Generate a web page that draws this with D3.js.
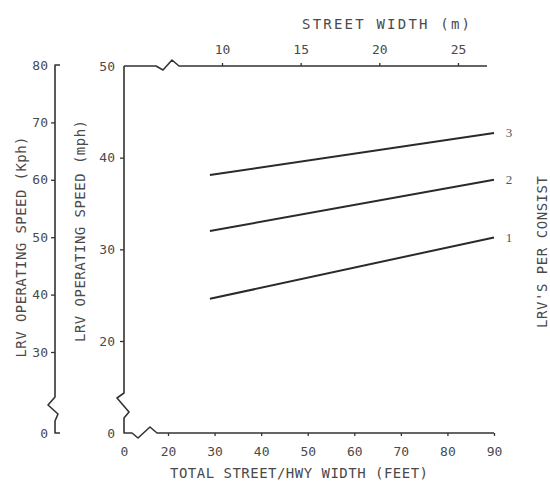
<!DOCTYPE html>
<html>
<head>
<meta charset="utf-8">
<script src="https://cdn.jsdelivr.net/npm/d3@7"></script>
<style>
  body { margin: 0; background: #fff; }
  svg { display: block; }
  text { font-family: "DejaVu Sans Mono", monospace; fill: #4a4a4a; }
</style>
</head>
<body>
<div id="chart"></div>
<script>
// LRV operating speed vs street width

const feetTicks = [0, 20, 30, 40, 50, 60, 70, 80, 90];
const mphTicks = [0, 20, 30, 40, 50];
const kphTicks = [0, 30, 40, 50, 60, 70, 80];
const metreTicks = [10, 15, 20, 25];

const consists = ['1', '2', '3'];
const startFeet = [29, 29, 29];
const endFeet = [90, 90, 90];
const startMph = [24.6, 32.0, 38.1];
const endMph = [31.3, 37.6, 42.7];

const width = 550;
const height = 491;
const ink = '#333';

const svg = d3.select('#chart')
    .append('svg')
    .attr('width', width)
    .attr('height', height);

// Broken scales: the 0 value sits closer than its true distance
const x = d3.scaleLinear().domain([0, 20, 90]).range([124, 168, 494]);
const y = d3.scaleLinear().domain([0, 20, 50]).range([433, 341, 66]);
const yKph = d3.scaleLinear().domain([0, 30, 80]).range([433, 352, 65]);
const xMetre = d3.scaleLinear().domain([10, 25]).range([222, 458]);

const kphX = 55;
const x0 = x(0), y0 = y(0), yTop = y(50);

function styleAxis(g) {
    g.select('.domain').remove();
    g.attr('font-family', null).attr('font-size', null);
    g.selectAll('.tick line').attr('stroke', ink).attr('stroke-width', 1.3);
    g.selectAll('.tick text').style('font-size', '13px');
}

// Bottom axis (feet)
const xAxis = svg.append('g')
    .attr('transform', `translate(0,${y0})`)
    .call(d3.axisBottom(x).tickValues(feetTicks).tickSize(3).tickPadding(11));
styleAxis(xAxis);
xAxis.selectAll('.tick').filter(d => d === 0).select('line').remove();

// mph axis
const yAxis = svg.append('g')
    .attr('transform', `translate(${x0},0)`)
    .call(d3.axisLeft(y).tickValues(mphTicks).tickSize(4).tickPadding(5));
styleAxis(yAxis);
yAxis.selectAll('.tick').filter(d => d === 0 || d === 50).select('line').remove();

// kph axis
const kAxis = svg.append('g')
    .attr('transform', `translate(${kphX},0)`)
    .call(d3.axisLeft(yKph).tickValues(kphTicks).tickSize(4).tickPadding(3));
styleAxis(kAxis);
kAxis.selectAll('.tick').filter(d => d === 0 || d === 80).select('line').remove();

// Top axis (metres)
const topAxis = svg.append('g')
    .attr('transform', `translate(0,${yTop})`)
    .call(d3.axisTop(xMetre).tickValues(metreTicks).tickSize(3).tickPadding(9));
styleAxis(topAxis);

// Axis lines with break marks
const line = d3.line();
const axisLines = [
    // mph + bottom axis
    [[x0, yTop], [x0, y0 - 40], [x0 - 7, y0 - 35], [x0 + 5, y0 - 21], [x0, y0 - 15], [x0, y0],
     [x0 + 8, y0], [x0 + 14, y0 + 5], [x0 + 26, y0 - 6], [x0 + 33, y0], [x(90), y0]],
    // top axis
    [[x0, yTop], [x0 + 32, yTop], [x0 + 39, yTop + 4], [x0 + 48, yTop - 6], [x0 + 55, yTop], [x(90) - 7, yTop]],
    // kph axis
    [[kphX + 5, yKph(80)], [kphX, yKph(80)], [kphX, yKph(0) - 36], [kphX - 7, yKph(0) - 28],
     [kphX + 3, yKph(0) - 19], [kphX, yKph(0) - 12], [kphX, yKph(0)], [kphX + 5, yKph(0)]]
];
svg.append('g')
    .selectAll('path')
    .data(axisLines)
    .join('path')
    .attr('d', d => line(d))
    .attr('fill', 'none')
    .attr('stroke', ink)
    .attr('stroke-width', 1.6)
    .attr('stroke-linejoin', 'round');

// Speed lines per consist
const series = consists.map((c, i) => ({
    name: c,
    points: [[startFeet[i], startMph[i]], [endFeet[i], endMph[i]]]
}));

const speedLine = d3.line()
    .x(d => x(d[0]))
    .y(d => y(d[1]));

svg.append('g')
    .selectAll('path')
    .data(series)
    .join('path')
    .attr('d', d => speedLine(d.points))
    .attr('fill', 'none')
    .attr('stroke', '#2a2a2a')
    .attr('stroke-width', 2);

svg.append('g')
    .selectAll('text')
    .data(series)
    .join('text')
    .attr('x', d => x(d.points[1][0]) + 15)
    .attr('y', d => y(d.points[1][1]))
    .attr('dy', '0.35em')
    .attr('text-anchor', 'middle')
    .style('font-family', '"Liberation Serif", serif')
    .style('font-size', '13px')
    .style('fill', '#555')
    .text(d => d.name);

// Titles
svg.append('text')
    .attr('x', 386).attr('y', 29)
    .attr('text-anchor', 'middle')
    .attr('textLength', 168)
    .style('font-size', '14px')
    .text('STREET WIDTH (m)');

svg.append('text')
    .attr('x', 299).attr('y', 478)
    .attr('text-anchor', 'middle')
    .attr('textLength', 258)
    .style('font-size', '14px')
    .text('TOTAL STREET/HWY WIDTH (FEET)');

const vTitles = [
    { label: 'LRV OPERATING SPEED (Kph)', cx: 21, cy: 247, len: 221 },
    { label: 'LRV OPERATING SPEED (mph)', cx: 80, cy: 231, len: 222 },
    { label: "LRV'S PER CONSIST", cx: 542, cy: 252, len: 152 }
];
svg.append('g')
    .selectAll('text')
    .data(vTitles)
    .join('text')
    .attr('transform', d => `translate(${d.cx},${d.cy}) rotate(-90)`)
    .attr('dy', '0.35em')
    .attr('text-anchor', 'middle')
    .attr('textLength', d => d.len)
    .style('font-size', '14px')
    .text(d => d.label);
</script>
</body>
</html>
